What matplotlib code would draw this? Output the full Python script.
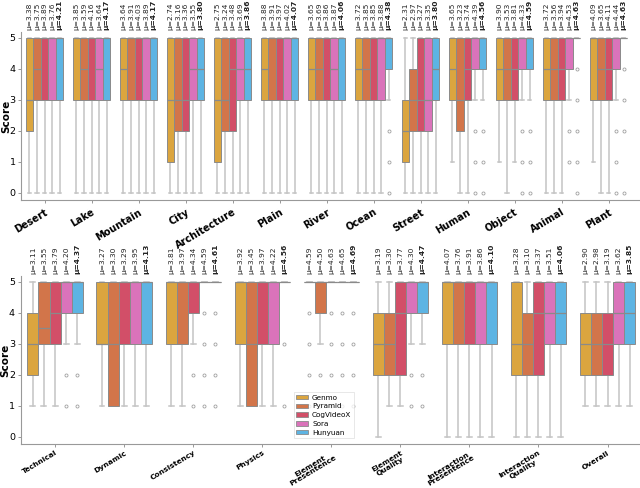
import matplotlib
matplotlib.use("Agg")
import matplotlib.pyplot as plt
from matplotlib.patches import Patch
from matplotlib.transforms import blended_transform_factory

models = ["Genmo", "Pyramid", "CogVideoX", "Sora", "Hunyuan"]
colors = ["#DBA53F", "#D2754A", "#D24F68", "#DA73BA", "#5DB4E3"]

# ---------------- top row ----------------
top_cats = ["Desert", "Lake", "Mountain", "City", "Architecture", "Plain", "River",
            "Ocean", "Street", "Human", "Object", "Animal", "Plant"]
top_means = [
    [3.38, 3.75, 3.89, 3.76, 4.21],
    [3.85, 3.59, 4.16, 3.64, 4.17],
    [3.64, 3.91, 4.03, 3.89, 4.17],
    [2.74, 3.16, 3.36, 3.55, 3.80],
    [2.75, 3.24, 3.48, 3.69, 3.86],
    [3.88, 3.91, 3.97, 4.02, 4.07],
    [3.65, 3.69, 3.86, 3.87, 4.06],
    [3.72, 3.85, 3.85, 3.88, 4.38],
    [2.31, 2.97, 3.27, 3.35, 3.80],
    [3.65, 3.23, 3.74, 4.39, 4.56],
    [3.90, 3.53, 3.81, 4.33, 4.59],
    [3.72, 3.56, 3.94, 4.53, 4.63],
    [4.09, 3.65, 4.11, 4.44, 4.63],
]
top_q1 = [
    [2, 3, 3, 3, 3], [3, 3, 3, 3, 3], [3, 3, 3, 3, 3], [1, 2, 2, 3, 3],
    [1, 2, 2, 3, 3], [3, 3, 3, 3, 3], [3, 3, 3, 3, 3], [3, 3, 3, 3, 4],
    [1, 2, 2, 2, 3], [3, 2, 3, 4, 4], [3, 3, 3, 4, 4], [3, 3, 3, 4, 5],
    [3, 3, 3, 4, 5],
]
top_med = [
    [3, 4, 5, 5, 5], [5, 4, 5, 4, 5], [4, 5, 5, 5, 5], [3, 3, 3, 4, 4],
    [3, 3, 4, 4, 4], [4, 5, 5, 5, 5], [4, 4, 5, 4, 5], [4, 4, 5, 5, 5],
    [2, 3, 3, 3, 4], [4, 3, 4, 5, 5], [4, 4, 4, 5, 5], [4, 4, 4, 5, 5],
    [5, 4, 4, 5, 5],
]
top_q3 = [
    [5, 5, 5, 5, 5], [5, 5, 5, 5, 5], [5, 5, 5, 5, 5], [5, 5, 5, 5, 5],
    [5, 5, 5, 5, 5], [5, 5, 5, 5, 5], [5, 5, 5, 5, 5], [5, 5, 5, 5, 5],
    [3, 4, 5, 5, 5], [5, 5, 5, 5, 5], [5, 5, 5, 5, 5], [5, 5, 5, 5, 5],
    [5, 5, 5, 5, 5],
]
top_whislo = [
    [0, 0, 0, 0, 0], [0, 0, 0, 0, 0], [0, 0, 0, 0, 0], [0, 0, 0, 0, 0],
    [0, 0, 0, 0, 0], [0, 0, 0, 0, 0], [0, 0, 0, 0, 0], [0, 0, 0, 0, 3],
    [0, 0, 0, 0, 0], [1, 0, 0, 3, 3], [1, 0, 1, 3, 3], [0, 0, 0, 3, 5],
    [1, 0, 0, 3, 5],
]
top_whishi = [[5, 5, 5, 5, 5] for _ in top_cats]
top_fliers = {
    "Ocean": [[], [], [], [], [2, 1, 0]],
    "Human": [[], [], [], [2, 1, 0], [2, 1, 0]],
    "Object": [[], [], [], [2, 1, 0], [2, 1, 0]],
    "Animal": [[], [], [], [2, 1], [4, 3, 2, 1, 0]],
    "Plant": [[], [], [], [2, 1, 0], [4, 3, 2, 0]],
}

# ---------------- bottom row ----------------
bot_cats = ["Technical", "Dynamic", "Consistency", "Physics", "Element\nPresentence",
            "Element\nQuality", "Interaction\nPresentence", "Interaction\nQuality", "Overall"]
bot_means = [
    [3.11, 3.55, 3.79, 4.20, 4.37],
    [3.27, 3.30, 3.29, 3.95, 4.13],
    [3.81, 3.97, 4.34, 4.59, 4.61],
    [3.92, 3.45, 3.97, 4.22, 4.56],
    [4.59, 4.50, 4.63, 4.65, 4.69],
    [3.19, 3.30, 3.77, 4.30, 4.47],
    [4.07, 3.76, 3.91, 3.86, 4.10],
    [3.28, 3.10, 3.37, 3.51, 4.06],
    [2.90, 2.98, 3.19, 3.62, 3.85],
]
bot_q1 = [
    [2, 3, 3, 4, 4], [3, 1, 3, 3, 3], [3, 3, 4, 5, 5], [3, 1, 3, 3, 5],
    [5, 4, 5, 5, 5], [2, 2, 2, 4, 4], [3, 3, 3, 3, 3], [2, 2, 2, 3, 3],
    [2, 2, 2, 3, 3],
]
bot_med = [
    [3, 3.5, 4, 5, 5], [3, 3, 5, 5, 5], [5, 5, 5, 5, 5], [5, 3, 5, 5, 5],
    [5, 5, 5, 5, 5], [3, 3, 4, 5, 5], [5, 5, 5, 5, 5], [3, 3, 4, 4, 4],
    [3, 3, 3, 4, 4],
]
bot_q3 = [
    [4, 5, 5, 5, 5], [5, 5, 5, 5, 5], [5, 5, 5, 5, 5], [5, 5, 5, 5, 5],
    [5, 5, 5, 5, 5], [4, 4, 5, 5, 5], [5, 5, 5, 5, 5], [5, 4, 5, 5, 5],
    [4, 4, 4, 5, 5],
]
bot_whislo = [
    [1, 1, 1, 3, 3], [1, 1, 1, 1, 1], [1, 1, 3, 5, 5], [1, 1, 1, 1, 5],
    [5, 3, 5, 5, 5], [0, 1, 1, 3, 3], [0, 0, 0, 0, 0], [0, 0, 0, 0, 0],
    [1, 1, 1, 1, 1],
]
bot_whishi = [[5, 5, 5, 5, 5] for _ in bot_cats]
bot_fliers = {
    "Technical": [[], [], [], [2, 1], [2, 1]],
    "Consistency": [[], [], [2, 1], [4, 3, 2, 1], [4, 3, 2, 1]],
    "Physics": [[], [], [], [], [3, 1]],
    "Element\nPresentence": [[4, 3, 2, 1], [2, 1], [4, 3, 2, 1], [4, 3, 2, 1], [4, 3, 2, 1]],
    "Element\nQuality": [[], [], [], [2, 1], [2, 1]],
}

BW = 0.16
BOX_EDGE = "#8a8a8a"
WHISK = "#c4c4c4"


def draw(ax, cats, means, q1, med, q3, wlo, whi, fliers, xmax, label_fs, label_pad):
    tr = blended_transform_factory(ax.transData, ax.transAxes)
    for i, cat in enumerate(cats):
        fl = fliers.get(cat, [[], [], [], [], []])
        for j in range(len(models)):
            pos = i + (j - 2) * BW
            st = dict(q1=q1[i][j], med=med[i][j], q3=q3[i][j],
                      whislo=wlo[i][j], whishi=whi[i][j], fliers=fl[j])
            ax.bxp([st], positions=[pos], widths=BW, capwidths=BW * 0.45,
                   patch_artist=True, manage_ticks=False,
                   boxprops=dict(facecolor=colors[j], edgecolor=BOX_EDGE, linewidth=0.7,
                                 zorder=3),
                   medianprops=dict(color=BOX_EDGE, linewidth=0.9, zorder=3.5),
                   whiskerprops=dict(color=WHISK, linewidth=1.1, zorder=1.5),
                   capprops=dict(color=WHISK, linewidth=1.1, zorder=1.5),
                   flierprops=dict(marker="o", markersize=2.2, markerfacecolor="none",
                                   markeredgecolor="#a0a0a0", markeredgewidth=0.6))
            ax.text(pos, 1.01, f"μ={means[i][j]:.2f}", transform=tr, rotation=90,
                    ha="center", va="bottom", fontsize=5.4, color="#222222",
                    fontweight="bold" if j == 4 else "normal")
    ax.set_xlim(-0.5, xmax)
    ax.set_ylim(-0.23, 5.19)
    ax.set_xticks(range(len(cats)))
    ax.set_xticklabels(cats, rotation=31, ha="right", rotation_mode="anchor",
                       fontsize=label_fs, fontweight="bold", multialignment="center",
                       linespacing=0.95)
    ax.set_yticks(range(6))
    ax.tick_params(axis="y", labelsize=6.8, length=2.5, width=0.6, color="#888888", pad=1.5)
    ax.tick_params(axis="x", length=2, width=0.6, color="#888888", pad=label_pad)
    ax.set_ylabel("Score", fontsize=7.5, fontweight="bold")
    ax.yaxis.set_label_coords(-0.0165, 0.5)
    for s in ["top", "right"]:
        ax.spines[s].set_visible(False)
    for s in ["left", "bottom"]:
        ax.spines[s].set_color("#999999")
        ax.spines[s].set_linewidth(0.8)


fig = plt.figure(figsize=(6.4, 4.88), dpi=100)
ax1 = fig.add_axes([21 / 640, 1 - 200 / 488, 619 / 640, 168 / 488])
ax2 = fig.add_axes([20.5 / 640, 1 - 444 / 488, 619.5 / 640, 168 / 488])

draw(ax1, top_cats, top_means, top_q1, top_med, top_q3, top_whislo, top_whishi,
     top_fliers, 12.67, 7.0, 3)
draw(ax2, bot_cats, bot_means, bot_q1, bot_med, bot_q3, bot_whislo, bot_whishi,
     bot_fliers, 8.47, 5.4, 2.2)

handles = [Patch(facecolor=c, edgecolor=BOX_EDGE, linewidth=0.6, label=m)
           for c, m in zip(colors, models)]
leg = ax2.legend(handles=handles, loc="lower left", bbox_to_anchor=(0.441, 0.035),
                 borderaxespad=0, fontsize=5.2, labelspacing=0.38, handlelength=1.6,
                 handleheight=0.6, borderpad=0.35, handletextpad=0.6, frameon=True,
                 fancybox=False, edgecolor="#dddddd")
leg.get_frame().set_linewidth(0.6)
leg.set_zorder(5)

fig.savefig("out.png", dpi=100)
